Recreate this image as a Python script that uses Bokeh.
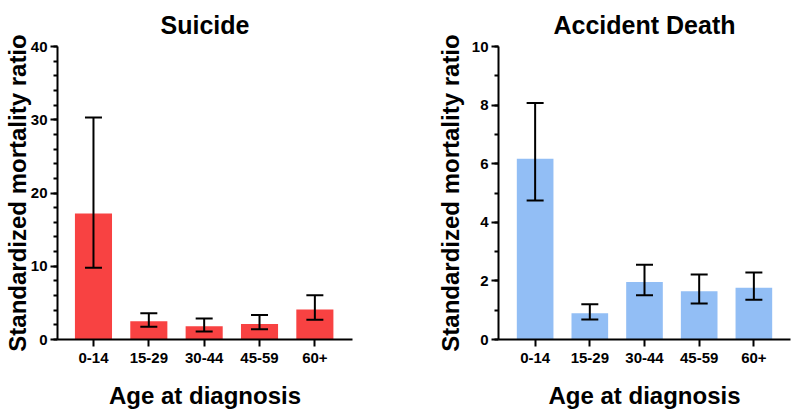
from bokeh.plotting import figure
from bokeh.layouts import row
from bokeh.models import ColumnDataSource, Range1d, FixedTicker, Whisker, TeeHead
from bokeh.embed import file_html
from bokeh.resources import INLINE

categories = ["0-14", "15-29", "30-44", "45-59", "60+"]

suicide_smr = [17.2, 2.5, 1.8, 2.1, 4.1]
suicide_lower = [9.8, 1.75, 1.1, 1.4, 2.7]
suicide_upper = [30.3, 3.6, 2.85, 3.35, 6.05]

accident_smr = [6.17, 0.9, 1.96, 1.65, 1.77]
accident_lower = [4.74, 0.68, 1.51, 1.23, 1.36]
accident_upper = [8.07, 1.2, 2.55, 2.22, 2.29]

FONT = "Liberation Sans"


def make_panel(title, smr, lower, upper, color, ymax, major, minor, width, height,
               border_left, border_right, xr, ylabel_standoff):
    xs = list(range(1, len(categories) + 1))
    src = ColumnDataSource(dict(x=xs, top=smr, lower=lower, upper=upper))
    p = figure(width=width, height=height, output_backend="svg", toolbar_location=None,
               x_range=Range1d(*xr), y_range=Range1d(0, ymax),
               min_border_left=border_left, min_border_right=border_right,
               min_border_top=46, min_border_bottom=71)
    p.vbar(x="x", top="top", width=0.67, bottom=0, source=src, color=color, line_color=None)
    w = Whisker(base="x", lower="lower", upper="upper", source=src,
                line_color="black", line_width=2, level="overlay",
                upper_head=TeeHead(size=17, line_width=2, line_color="black"),
                lower_head=TeeHead(size=17, line_width=2, line_color="black"))
    p.add_layout(w)

    p.title.text = title
    p.title.align = "center"
    p.title.text_font = FONT
    p.title.text_font_style = "bold"
    p.title.text_font_size = "25px"
    p.title.text_color = "black"
    p.title.text_line_height = 0.6
    p.title.standoff = 16

    p.grid.visible = False
    p.outline_line_color = None
    p.background_fill_color = "white"
    p.border_fill_color = "white"

    p.xaxis.ticker = FixedTicker(ticks=xs)
    p.xaxis.major_label_overrides = {x: c for x, c in zip(xs, categories)}
    p.xaxis.minor_tick_line_color = None
    p.xaxis.axis_label = "Age at diagnosis"
    p.yaxis.axis_label = "Standardized mortality ratio"
    p.yaxis.ticker = FixedTicker(ticks=[i * major for i in range(int(ymax / major) + 1)],
                                 minor_ticks=[i * minor for i in range(int(ymax / minor) + 1)])

    for ax in (p.xaxis[0], p.yaxis[0]):
        ax.axis_line_width = 2
        ax.axis_line_color = "black"
        ax.major_tick_line_width = 2
        ax.major_tick_line_color = "black"
        ax.minor_tick_line_width = 2
        ax.major_tick_out = 7
        ax.major_tick_in = 0
        ax.minor_tick_out = 4
        ax.minor_tick_in = 0
        ax.major_label_text_font = FONT
        ax.major_label_text_font_style = "bold"
        ax.major_label_text_font_size = "15px"
        ax.major_label_text_color = "black"
        ax.axis_label_text_font = FONT
        ax.axis_label_text_font_style = "bold"
        ax.axis_label_text_font_size = "24px"
        ax.axis_label_text_color = "black"
    p.xaxis.major_label_standoff = 6
    p.xaxis.axis_label_standoff = 16
    p.yaxis.major_label_standoff = 3
    p.yaxis.axis_label_standoff = ylabel_standoff
    p.yaxis.minor_tick_line_color = "black"
    return p


p1 = make_panel("Suicide", suicide_smr, suicide_lower, suicide_upper, "#F84242",
                40, 10, 2, 397, 411, 56, 45, (0.35, 5.68), -3)
p2 = make_panel("Accident Death", accident_smr, accident_lower, accident_upper, "#92BEF5",
                10, 2, 1, 397, 411, 101, 4, (0.33, 5.67), 5)

layout = row(p1, p2)
open("out.html", "w").write(file_html(layout, INLINE))
